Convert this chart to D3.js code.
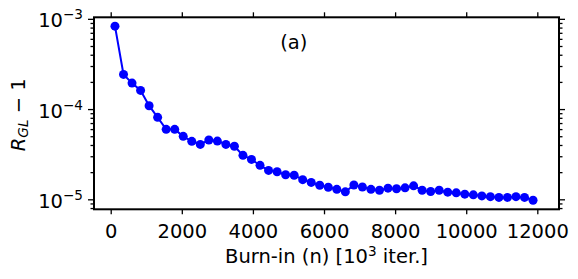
<!DOCTYPE html>
<html>
<head>
<meta charset="utf-8">
<script src="https://cdn.jsdelivr.net/npm/d3@7"></script>
<style>
  html, body { margin: 0; padding: 0; background: #fff; }
  svg { display: block; }
  text { font-family: "DejaVu Sans", sans-serif; fill: #000; }
</style>
</head>
<body>
<svg id="chart" width="578" height="279"></svg>
<script>
// ---- data ----
const burnIn = [120, 360, 600, 840, 1080, 1320, 1560, 1800, 2040, 2280,
  2520, 2760, 3000, 3240, 3480, 3720, 3960, 4200, 4440, 4680,
  4920, 5160, 5400, 5640, 5880, 6120, 6360, 6600, 6840, 7080,
  7320, 7560, 7800, 8040, 8280, 8520, 8760, 9000, 9240, 9480,
  9720, 9960, 10200, 10440, 10680, 10920, 11160, 11400, 11640, 11880];
const rglMinus1 = [8.3e-4, 2.42e-4, 1.94e-4, 1.61e-4, 1.09e-4, 8.1e-5, 5.96e-5, 5.96e-5, 4.99e-5, 4.39e-5,
  4.06e-5, 4.54e-5, 4.42e-5, 4.06e-5, 3.87e-5, 3.07e-5, 2.77e-5, 2.38e-5, 2.09e-5, 2.02e-5,
  1.87e-5, 1.85e-5, 1.65e-5, 1.54e-5, 1.43e-5, 1.36e-5, 1.29e-5, 1.21e-5, 1.44e-5, 1.37e-5,
  1.29e-5, 1.26e-5, 1.33e-5, 1.31e-5, 1.34e-5, 1.41e-5, 1.26e-5, 1.22e-5, 1.26e-5, 1.20e-5,
  1.18e-5, 1.14e-5, 1.12e-5, 1.09e-5, 1.07e-5, 1.05e-5, 1.05e-5, 1.07e-5, 1.05e-5, 9.75e-6];
const xTicks = [0, 2000, 4000, 6000, 8000, 10000, 12000];
const yMajorExps = [-5, -4, -3];
const panelLabel = "(a)";

// ---- layout ----
const FS = 19.5, FSS = 13.6;
const svg = d3.select("#chart");
const L = 94, R = 559, T = 17.3, B = 209.3;

const x = d3.scaleLinear().domain([-470, 12610]).range([L, R]);
const y = d3.scaleLog().domain([7.75e-6, 1.04e-3]).range([B, T]);

// minor ticks on log axis
const yMinor = [];
for (let e = -6; e <= -3; e++) {
  for (let m = 2; m <= 9; m++) {
    const v = m * Math.pow(10, e);
    if (v >= y.domain()[0] && v <= y.domain()[1]) yMinor.push(v);
  }
}
const yMajor = yMajorExps.map(e => Math.pow(10, e));

// axes
const axB = d3.axisBottom(x).tickValues(xTicks).tickSize(5).tickPadding(3).tickFormat(d3.format("d"));
const axT = d3.axisTop(x).tickValues(xTicks).tickSize(5).tickFormat("");
const axLmaj = d3.axisLeft(y).tickValues(yMajor).tickSize(6).tickFormat("");
const axLmin = d3.axisLeft(y).tickValues(yMinor).tickSize(3.5).tickFormat("");
const axRmaj = d3.axisRight(y).tickValues(yMajor).tickSize(6).tickFormat("");
const axRmin = d3.axisRight(y).tickValues(yMinor).tickSize(3.5).tickFormat("");

function style(g) {
  g.select(".domain").remove();
  g.selectAll(".tick line").attr("stroke", "#000").attr("stroke-width", 1.3);
}

const gB = svg.append("g").attr("transform", `translate(0,${B})`).call(axB).call(style);
gB.selectAll(".tick text").attr("font-size", FS).attr("font-family", "DejaVu Sans").attr("fill", "#000")
  .attr("dy", null).attr("y", 29);
svg.append("g").attr("transform", `translate(0,${T})`).call(axT).call(style);
svg.append("g").attr("transform", `translate(${L},0)`).call(axLmaj).call(style);
svg.append("g").attr("transform", `translate(${L},0)`).call(axLmin).call(style);
svg.append("g").attr("transform", `translate(${R},0)`).call(axRmaj).call(style);
svg.append("g").attr("transform", `translate(${R},0)`).call(axRmin).call(style);

// y tick labels 10^e
yMajorExps.forEach(e => {
  const t = svg.append("text")
    .attr("x", L - 11)
    .attr("y", y(Math.pow(10, e)) + 8.5)
    .attr("text-anchor", "end")
    .attr("font-size", FS);
  t.append("tspan").text("10");
  t.append("tspan").attr("font-size", FSS).attr("dy", -8).text("\u2212" + Math.abs(e));
});

// frame
svg.append("rect").attr("x", L).attr("y", T).attr("width", R - L).attr("height", B - T)
  .attr("fill", "none").attr("stroke", "#000").attr("stroke-width", 2);

// line + markers
const line = d3.line().x((d, i) => x(burnIn[i])).y(d => y(d));
svg.append("path").datum(rglMinus1).attr("d", line)
  .attr("fill", "none").attr("stroke", "#0000ff").attr("stroke-width", 2);
svg.append("g").selectAll("circle").data(rglMinus1).join("circle")
  .attr("cx", (d, i) => x(burnIn[i])).attr("cy", d => y(d)).attr("r", 4.5)
  .attr("fill", "#0000ff");

// panel label
svg.append("text").attr("x", x(5150)).attr("y", 49).attr("text-anchor", "middle")
  .attr("font-size", FS).text(panelLabel);

// x label
const xl = svg.append("text").attr("x", (L + R) / 2).attr("y", 263)
  .attr("text-anchor", "middle").attr("font-size", FS);
xl.append("tspan").text("Burn-in (n) [10");
xl.append("tspan").attr("font-size", FSS).attr("dy", -7.5).text("3");
xl.append("tspan").attr("dy", 7.5).text(" iter.]");

// y label
const yl = svg.append("text")
  .attr("transform", `translate(25,${(T + B) / 2 + 1.5}) rotate(-90)`)
  .attr("text-anchor", "middle").attr("font-size", FS);
yl.append("tspan").attr("font-style", "italic").text("R");
yl.append("tspan").attr("font-style", "italic").attr("font-size", FSS).attr("dy", 3).text("GL");
yl.append("tspan").attr("dy", -3).text(" \u2212 1");
</script>
</body>
</html>
